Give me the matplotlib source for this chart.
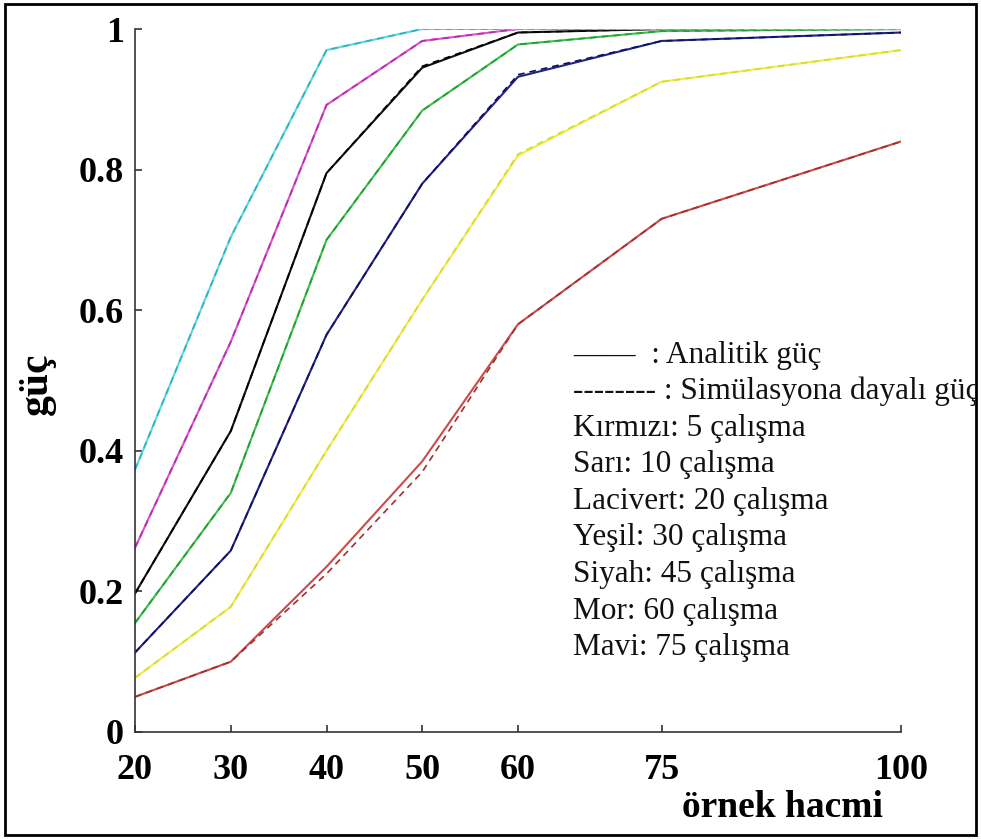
import matplotlib as mpl
import matplotlib.pyplot as plt
from matplotlib.patches import Rectangle
from matplotlib.transforms import Bbox, TransformedBbox

mpl.use("Agg")
plt.rcParams["font.family"] = ["Liberation Serif", "DejaVu Serif"]

# sample size (örnek hacmi)
n = [20, 30, 40, 50, 60, 75, 100]

# analytic power per number of studies
red = [0.050, 0.100, 0.235, 0.385, 0.580, 0.730, 0.840]
yellow = [0.077, 0.178, 0.400, 0.615, 0.820, 0.925, 0.970]
navy = [0.113, 0.258, 0.565, 0.780, 0.932, 0.983, 0.995]
green = [0.155, 0.340, 0.700, 0.884, 0.978, 0.997, 1.000]
black = [0.197, 0.428, 0.795, 0.945, 0.995, 1.000, 1.000]
magenta = [0.262, 0.555, 0.892, 0.983, 1.000, 1.000, 1.000]
cyan = [0.373, 0.704, 0.970, 1.000, 1.000, 1.000, 1.000]

# simulation based power
red_sim = [0.050, 0.100, 0.225, 0.370, 0.580, 0.730, 0.840]
yellow_sim = [0.077, 0.178, 0.400, 0.615, 0.822, 0.925, 0.970]
navy_sim = [0.113, 0.258, 0.565, 0.780, 0.935, 0.983, 0.995]
green_sim = [0.155, 0.340, 0.700, 0.884, 0.978, 0.997, 1.000]
black_sim = [0.197, 0.428, 0.795, 0.947, 0.995, 1.000, 1.000]
magenta_sim = [0.262, 0.555, 0.892, 0.983, 1.000, 1.000, 1.000]
cyan_sim = [0.373, 0.704, 0.970, 1.000, 1.000, 1.000, 1.000]

yticks = [0, 0.2, 0.4, 0.6, 0.8, 1]
ytick_labels = ["0", "0.2", "0.4", "0.6", "0.8", "1"]

notes = [
    "——  : Analitik güç",
    "-------- : Simülasyona dayalı güç",
    "Kırmızı: 5 çalışma",
    "Sarı: 10 çalışma",
    "Lacivert: 20 çalışma",
    "Yeşil: 30 çalışma",
    "Siyah: 45 çalışma",
    "Mor: 60 çalışma",
    "Mavi: 75 çalışma",
]

series = [
    (red, red_sim, "#cc4a4a", "#a03030"),
    (yellow, yellow_sim, "#eeee48", "#d8d830"),
    (navy, navy_sim, "#22228a", "#10105a"),
    (green, green_sim, "#3cc04c", "#289a36"),
    (black, black_sim, "#111111", "#000000"),
    (magenta, magenta_sim, "#dd4fd2", "#b030a8"),
    (cyan, cyan_sim, "#5dd6df", "#30b0c0"),
]

fig = plt.figure(figsize=(9.81, 8.39), dpi=100)
ax = fig.add_axes([135 / 981, 1 - 732 / 839, 766 / 981, 703 / 839])

for analytic, sim, col, col_sim in series:
    ax.plot(n, analytic, color=col, lw=1.5)
    ax.plot(n, sim, color=col_sim, lw=1.2, ls=(0, (4, 3)))

ax.set_xlim(20, 100)
ax.set_ylim(0, 1)
ax.set_xticks(n)
ax.set_xticklabels([str(v) for v in n])
ax.set_yticks(yticks)
ax.set_yticklabels(ytick_labels)
ax.spines["top"].set_visible(False)
ax.spines["right"].set_visible(False)
for s in ("left", "bottom"):
    ax.spines[s].set_color("#333333")
    ax.spines[s].set_linewidth(1.2)
ax.tick_params(direction="in", length=5, width=1.2, color="#333333", labelsize=26)
ax.tick_params(axis="x", pad=16)
ax.tick_params(axis="y", pad=8)
for lab in ax.get_xticklabels() + ax.get_yticklabels():
    lab.set_fontweight("bold")

ax.set_xlabel("örnek hacmi", fontsize=27, fontweight="bold")
ax.xaxis.set_label_coords(0.845, -0.107)
ax.xaxis.label.set_va("center")
ax.set_ylabel("güç", fontsize=30, fontweight="bold")
ax.yaxis.set_label_coords(-0.128, 0.496)
ax.yaxis.label.set_va("center")

clip = TransformedBbox(Bbox([[0, 0], [975 / 981, 1]]), fig.transFigure)
for i, line in enumerate(notes):
    t = ax.text(0.572, (732 - 355 - i * 36.6) / 703, line, transform=ax.transAxes,
                fontsize=22.5, va="center", ha="left", color="#111111")
    t.set_clip_box(clip)
    t.set_clip_on(True)

fig.patches.append(Rectangle((5 / 981, 4 / 839), 971 / 981, 831 / 839, transform=fig.transFigure,
                             fill=False, edgecolor="black", linewidth=2))

fig.savefig("out.png", dpi=100)
